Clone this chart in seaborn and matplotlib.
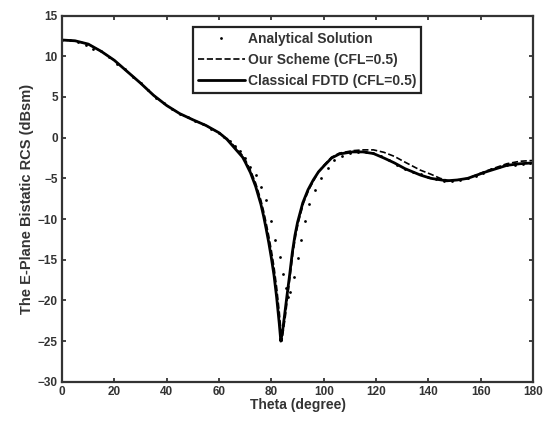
import numpy as np
import pandas as pd
import matplotlib
matplotlib.use("Agg")
import matplotlib.pyplot as plt
import seaborn as sns

# values
fdtd_theta = [0, 5, 10, 15, 20, 25, 30, 35, 40, 45, 50, 55, 60, 63, 66, 69, 70, 72, 74,
              76, 77, 78, 79, 80, 81, 82, 83, 83.6, 84.3, 85, 86, 87, 88, 89, 90, 92, 94,
              96, 98, 100, 103, 106, 111, 115, 119, 123, 127, 131, 134, 137, 141, 147,
              151, 155, 162, 170, 175, 180]
fdtd_rcs = [12.0, 11.9, 11.5, 10.6, 9.5, 8.1, 6.7, 5.2, 3.95, 2.95, 2.2, 1.5, 0.6, -0.2,
            -1.3, -2.4, -3.0, -4.3, -6.0, -8.2, -9.6, -11.2, -12.9, -14.8, -16.9, -19.6,
            -22.8, -25.0, -23.7, -21.9, -19.3, -16.8, -14.1, -12.0, -10.4, -8.0, -6.4,
            -5.2, -4.2, -3.5, -2.5, -2.0, -1.75, -1.75, -1.95, -2.5, -3.1, -3.8, -4.2,
            -4.6, -5.0, -5.3, -5.2, -5.0, -4.2, -3.4, -3.2, -3.1]

ours_theta = [0, 5, 10, 15, 20, 25, 30, 35, 40, 45, 50, 55, 60, 63, 66, 69, 70, 72, 74,
              76, 77, 78, 79, 80, 81, 82, 83, 84.0, 84.6, 85.4, 86.3, 87.3, 88.3, 89.3,
              90.3, 92.3, 94.3, 96.3, 98, 100, 103, 106, 111, 115, 119, 123, 127, 131,
              134, 137, 141, 144.5, 148, 151, 155, 162, 170, 175, 180]
ours_rcs = [12.0, 11.9, 11.5, 10.6, 9.5, 8.1, 6.7, 5.2, 3.95, 2.95, 2.2, 1.5, 0.6, -0.1,
            -1.1, -2.2, -2.7, -4.0, -5.6, -7.7, -9.0, -10.5, -12.1, -13.9, -15.9, -18.4,
            -21.4, -25.0, -23.6, -21.8, -19.2, -16.6, -14.0, -12.0, -10.4, -8.0, -6.4,
            -5.2, -4.2, -3.4, -2.4, -1.9, -1.6, -1.5, -1.5, -1.8, -2.3, -3.0, -3.5, -4.0,
            -4.5, -5.0, -5.3, -5.2, -5.0, -4.1, -3.2, -2.9, -2.8]

ana_theta = [0, 3, 6, 9, 12, 15, 18, 21, 24, 27, 30, 33, 36, 39, 42, 45, 48, 51, 54, 57,
             60, 62, 64, 66, 68, 70, 72, 74, 76, 78, 79.8, 81.4, 83.1, 84.4, 85.5, 86.4,
             87.3, 88.7, 90.0, 91.4, 92.8, 94.5, 96.5, 99, 101.5, 104, 107, 110, 113, 116,
             119, 122, 125, 128, 131, 134, 137, 140, 143, 146, 149, 152, 155, 158, 161,
             164, 167, 170, 173, 176, 179]
ana_rcs = [12.0, 11.95, 11.8, 11.4, 10.9, 10.6, 9.9, 9.1, 8.4, 7.5, 6.7, 5.8, 4.9, 4.2,
           3.5, 2.95, 2.5, 2.05, 1.65, 1.1, 0.6, 0.1, -0.4, -1.0, -1.6, -2.5, -3.6, -4.6,
           -6.0, -7.7, -10.2, -12.6, -14.7, -16.7, -18.5, -19.6, -19.0, -17.1, -14.8,
           -12.6, -10.2, -8.2, -6.4, -4.9, -3.7, -2.8, -2.2, -1.9, -1.75, -1.75, -1.9,
           -2.3, -2.8, -3.3, -3.8, -4.2, -4.5, -4.8, -5.1, -5.3, -5.3, -5.2, -5.0, -4.7,
           -4.3, -3.9, -3.6, -3.4, -3.3, -3.2, -3.1]

x_ticks = list(range(0, 181, 20))
y_ticks = list(range(-30, 16, 5))

sns.set_style("ticks")
plt.rcParams["font.family"] = ["Liberation Sans", "DejaVu Sans"]
plt.rcParams["xtick.direction"] = "in"
plt.rcParams["ytick.direction"] = "in"

fig, ax = plt.subplots(figsize=(5.49, 4.21), dpi=100)
fig.subplots_adjust(left=0.113, right=0.971, bottom=0.093, top=0.963)

sns.lineplot(x=ana_theta, y=ana_rcs, ax=ax, color="black", marker=".", markersize=4,
             linestyle="", markeredgewidth=0, label="Analytical Solution",
             sort=False, estimator=None)
sns.lineplot(x=ours_theta, y=ours_rcs, ax=ax, color="black", linewidth=1.2,
             linestyle="--", label="Our Scheme (CFL=0.5)", sort=False, estimator=None)
sns.lineplot(x=fdtd_theta, y=fdtd_rcs, ax=ax, color="black", linewidth=2.0,
             label="Classical FDTD (CFL=0.5)", sort=False, estimator=None)

ax.set_xlim(0, 180)
ax.set_ylim(-30, 15)
ax.set_xticks(x_ticks)
ax.set_yticks(y_ticks)
ax.tick_params(axis="both", which="both", top=True, right=True, length=3, width=1.2,
               labelsize=8.5, pad=3, color="#222222")
for lab in ax.get_xticklabels() + ax.get_yticklabels():
    lab.set_fontweight("bold")
    lab.set_color("#333333")
for sp in ax.spines.values():
    sp.set_visible(True)
    sp.set_linewidth(1.6)
    sp.set_color("#333333")

ax.set_xlabel("Theta (degree)", fontsize=10, fontweight="bold", color="#333333", labelpad=0)
ax.set_ylabel("The E-Plane Bistatic RCS (dBsm)", fontsize=10.5, fontweight="bold",
              color="#333333", labelpad=3)

leg = ax.legend(loc="upper left", bbox_to_anchor=(0.278, 0.969), borderaxespad=0,
                fancybox=False, framealpha=1, edgecolor="#222222", handlelength=3.4,
                prop={"size": 10, "weight": "bold"}, borderpad=0.35, labelspacing=0.5,
                handletextpad=0.2)
leg.get_frame().set_linewidth(1.6)
for t in leg.get_texts():
    t.set_color("#333333")

fig.savefig("out.png", dpi=100)
